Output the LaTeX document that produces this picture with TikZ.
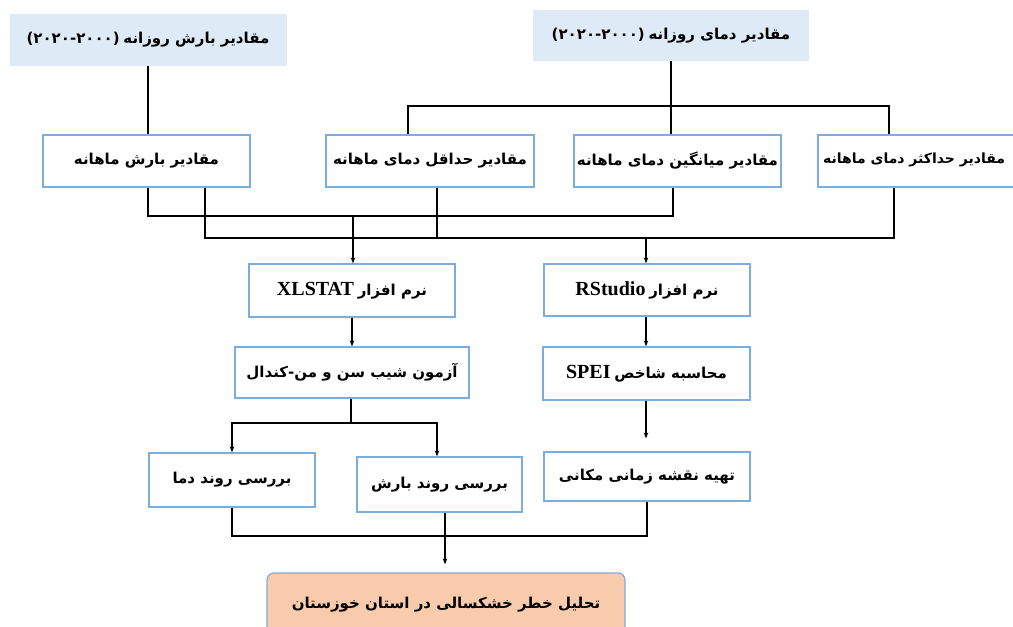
\documentclass[tikz,border=0pt]{standalone}
\usepackage{fontspec}
\setmainfont{Liberation Serif}
\newfontfamily\arabicfont[Script=Arabic]{DejaVu Sans}
\TeXXeTstate=1
\usetikzlibrary{arrows.meta}
\definecolor{topfill}{RGB}{222,235,247}
\definecolor{boxline}{RGB}{125,172,222}
\definecolor{finalfill}{RGB}{248,203,173}
\newcommand{\ar}[1]{{\arabicfont\bfseries\beginR #1\endR}}
\newcommand{\num}[1]{{\arabicfont\bfseries #1}}
\newcommand{\lat}[1]{{\fontsize{20}{23}\selectfont\bfseries #1}}
\begin{document}
\begin{tikzpicture}[x=1pt,y=-1pt,
  every node/.style={inner sep=0pt, font=\fontsize{15}{18}\selectfont},
  box/.style={draw=boxline, line width=1.2pt, fill=white, align=center},
  topbox/.style={fill=topfill, align=center},
  finalbox/.style={draw=boxline, line width=1.2pt, fill=finalfill, rounded corners=7pt, align=center},
  conn/.style={line width=1.4pt, black},
  arr/.style={conn, -{Stealth[length=6pt,width=4.5pt]}}]
\clip (0,0) rectangle (1013,627);
\fill[white] (0,0) rectangle (1013,627);

% top row
\node[topbox, minimum width=277pt, minimum height=52pt] (A) at (148,40) {\num{(۲۰۲۰-۲۰۰۰)} \ar{مقادیر بارش روزانه}};
\node[topbox, minimum width=276pt, minimum height=51pt] (B) at (671,35.5) {\num{(۲۰۲۰-۲۰۰۰)} \ar{مقادیر دمای روزانه}};

% second row
\node[box, minimum width=207pt, minimum height=52pt] (P) at (146.5,161) {\ar{مقادیر بارش ماهانه}};
\node[box, minimum width=208pt, minimum height=52pt] (Tmin) at (430,161) {\ar{مقادیر حداقل دمای ماهانه}};
\node[box, minimum width=207pt, minimum height=52pt] (Tmean) at (677.5,161) {\ar{مقادیر میانگین دمای ماهانه}};
\node[box, minimum width=208pt, minimum height=52pt] (Tmax) at (922,161) {};
\node[anchor=west, font=\fontsize{14}{17}\selectfont] (TmaxT) at (823,160) {\ar{مقادیر حداکثر دمای ماهانه}};

% third row
\node[box, minimum width=206pt, minimum height=53pt] (X) at (352,290.5) {\lat{XLSTAT} \ar{نرم افزار}};
\node[box, minimum width=206pt, minimum height=52pt] (R) at (647,290) {\lat{RStudio} \ar{نرم افزار}};

% fourth row
\node[box, minimum width=234pt, minimum height=51pt] (S) at (352,372.5) {\ar{آزمون شیب سن و من-کندال}};
\node[box, minimum width=207pt, minimum height=53pt] (SP) at (646.5,373.5) {\lat{SPEI} \ar{محاسبه شاخص}};

% fifth row
\node[box, minimum width=166pt, minimum height=54pt] (TT) at (232,480) {\ar{بررسی روند دما}};
\node[box, minimum width=165pt, minimum height=55pt] (PT) at (439.5,484.5) {\ar{بررسی روند بارش}};
\node[box, minimum width=206pt, minimum height=49pt] (M) at (647,476.5) {\ar{تهیه نقشه زمانی مکانی}};

% final
\node[finalbox, minimum width=358pt, minimum height=64pt] (F) at (446,605) {\ar{تحلیل خطر خشکسالی در استان خوزستان}};

% bus coordinates
\coordinate (busT) at (671,106);
\coordinate (busA) at (353,216);
\coordinate (busB) at (646,238);
\coordinate (busS) at (351,423);
\coordinate (busF) at (445,536);

% connectors top
\draw[conn] (A.south) -- (A.south |- P.north);
\draw[conn] (B.south) -- (B.south |- Tmean.north);
\draw[conn] ([xshift=-22pt]Tmin.north) |- (busT) -| ([xshift=-33pt]Tmax.north);

% connectors below second row
\draw[conn] ([xshift=1.5pt]P.south) |- (busA) -| ([xshift=-4.5pt]Tmean.south);
\draw[conn] ([xshift=58.5pt]P.south) |- (busB) -| ([xshift=-28pt]Tmax.south);
\draw[conn] ([xshift=7pt]Tmin.south) -- ([xshift=7pt]Tmin.south |- busB);
\draw[arr] (busA) -- (busA |- X.north);
\draw[arr] (busB) -- (busB |- R.north);

% middle
\draw[arr] (X.south) -- (X.south |- S.north);
\draw[arr] (R.south -| busB) -- (busB |- SP.north);
\draw[conn] (S.south -| busS) -- (busS);
\draw[arr] (busS) -| (TT.north);
\draw[arr] (busS) -| ([xshift=-2.5pt]PT.north);
\draw[arr, shorten >=13pt] (SP.south -| busB) -- (busB |- M.north);

% bottom
\draw[conn] (TT.south) |- (busF) -| (M.south);
\draw[arr, shorten >=8pt] (PT.south -| busF) -- (busF |- F.north);
\end{tikzpicture}
\end{document}
